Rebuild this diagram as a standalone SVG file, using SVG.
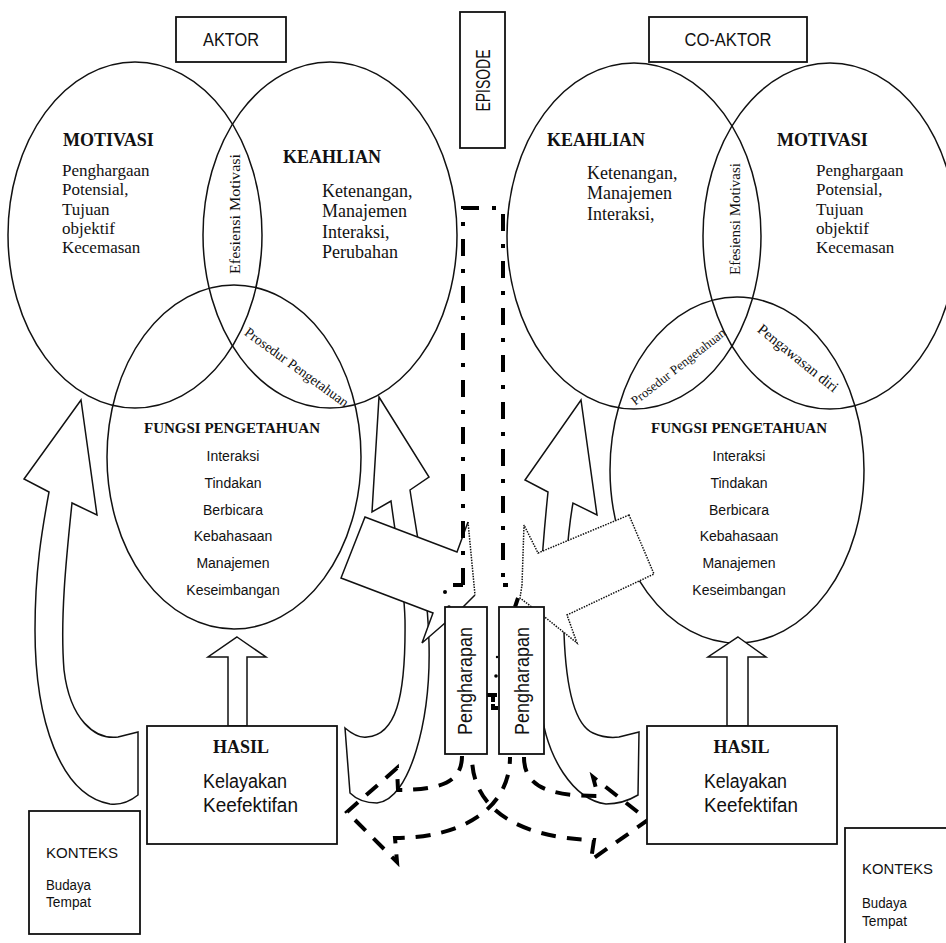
<svg xmlns="http://www.w3.org/2000/svg" width="946" height="943" viewBox="0 0 946 943">
<defs>
<style>
.sh{fill:none;stroke:#111;stroke-width:1.5}
.wf{fill:#fff;stroke:#111;stroke-width:1.5;stroke-linejoin:miter}
.nf{fill:#fff;stroke:none}
.box{fill:#fff;stroke:#111;stroke-width:1.8}
.serif{font-family:"Liberation Serif","Times New Roman",serif;fill:#111}
.sans{font-family:"Liberation Sans",Arial,sans-serif;fill:#111}
.b{font-weight:bold}
.mid{text-anchor:middle}
.dd{fill:none;stroke:#000;stroke-width:4;stroke-dasharray:17 13 4 13}
.dash{fill:none;stroke:#000;stroke-width:4;stroke-dasharray:15 11}
.dot{fill:none;stroke:#111;stroke-width:1.5;stroke-dasharray:1.5 1.2}
.mk{fill:none;stroke:#000;stroke-width:4}
</style>
</defs>
<rect x="0" y="0" width="946" height="943" fill="#fff"/>

<!-- Ellipses -->
<g id="motivasi-aktor">
<ellipse class="sh" cx="135" cy="235" rx="127" ry="173"/>
<text class="serif b" font-size="18" x="63" y="146">MOTIVASI</text>
<text class="serif" font-size="17"><tspan x="62" y="176">Penghargaan</tspan><tspan x="62" y="195">Potensial,</tspan><tspan x="62" y="215">Tujuan</tspan><tspan x="62" y="234">objektif</tspan><tspan x="62" y="253">Kecemasan</tspan></text>
</g>
<g id="keahlian-aktor">
<ellipse class="sh" cx="330" cy="235" rx="127" ry="173"/>
<text class="serif b" font-size="18" x="283" y="163">KEAHLIAN</text>
<text class="serif" font-size="18"><tspan x="322" y="197">Ketenangan,</tspan><tspan x="322" y="217">Manajemen</tspan><tspan x="322" y="238">Interaksi,</tspan><tspan x="322" y="258">Perubahan</tspan></text>
</g>
<g id="fungsi-aktor">
<ellipse class="sh" cx="234" cy="457" rx="127" ry="172"/>
<text class="serif b mid" font-size="15" x="232" y="433">FUNGSI PENGETAHUAN</text>
<text class="sans mid" font-size="14"><tspan x="233" y="461">Interaksi</tspan><tspan x="233" y="488">Tindakan</tspan><tspan x="233" y="514.5">Berbicara</tspan><tspan x="233" y="541">Kebahasaan</tspan><tspan x="233" y="568">Manajemen</tspan><tspan x="233" y="595">Keseimbangan</tspan></text>
</g>
<g id="overlap-aktor">
<text class="serif mid" font-size="15" textLength="120" lengthAdjust="spacingAndGlyphs" transform="translate(240,214) rotate(-90)">Efesiensi Motivasi</text>
<text class="serif mid" font-size="14" transform="translate(294,371) rotate(36)">Prosedur Pengetahuan</text>
</g>

<g id="keahlian-coaktor">
<ellipse class="sh" cx="634" cy="236" rx="127" ry="173"/>
<text class="serif b" font-size="18" x="547" y="146">KEAHLIAN</text>
<text class="serif" font-size="18"><tspan x="587" y="179">Ketenangan,</tspan><tspan x="587" y="199">Manajemen</tspan><tspan x="587" y="220">Interaksi,</tspan></text>
</g>
<g id="motivasi-coaktor">
<ellipse class="sh" cx="830" cy="236" rx="127" ry="173"/>
<text class="serif b" font-size="18" x="777" y="146">MOTIVASI</text>
<text class="serif" font-size="17"><tspan x="816" y="176">Penghargaan</tspan><tspan x="816" y="195">Potensial,</tspan><tspan x="816" y="215">Tujuan</tspan><tspan x="816" y="234">objektif</tspan><tspan x="816" y="253">Kecemasan</tspan></text>
</g>
<g id="fungsi-coaktor">
<ellipse class="sh" cx="737" cy="470" rx="127" ry="173"/>
<text class="serif b mid" font-size="15" x="739" y="433">FUNGSI PENGETAHUAN</text>
<text class="sans mid" font-size="14"><tspan x="739" y="461">Interaksi</tspan><tspan x="739" y="488">Tindakan</tspan><tspan x="739" y="514.5">Berbicara</tspan><tspan x="739" y="541">Kebahasaan</tspan><tspan x="739" y="568">Manajemen</tspan><tspan x="739" y="595">Keseimbangan</tspan></text>
</g>
<g id="overlap-coaktor">
<text class="serif mid" font-size="15" textLength="112" lengthAdjust="spacingAndGlyphs" transform="translate(740,219) rotate(-90)">Efesiensi Motivasi</text>
<text class="serif mid" font-size="13" transform="translate(681,370) rotate(-38)">Prosedur Pengetahuan</text>
<text class="serif mid" font-size="15" transform="translate(795,362) rotate(38.8)">Pengawasan diri</text>
</g>

<!-- Connectors -->
<g id="connectors">
<path class="wf" d="M 81,400 L 97,515 L 72,503 C 66,560 60,620 64,670 C 70,720 95,740 118,737 L 138,732 L 138,795 C 128,803 118,805 110,804 C 60,795 35,720 35,630 C 35,570 42,530 49,492 L 24,479 Z"/>
<path class="wf" d="M 379,397 L 429,477 L 410,490 C 416,530 428,590 429,643 C 431,720 410,800 377,803 C 366,803 356,799 350,793 L 345,728 C 352,734 360,738 367,737 C 395,735 406,700 405,620 C 404,580 396,540 391,501 L 372,512 Z"/>
<path class="wf" d="M 581,400 L 597,515 L 573,503 C 568,530 563,590 564,633 C 566,690 575,725 593,733 C 602,737 612,738 619,737 L 639,732 L 638,795 C 628,801 618,804 606,804 C 575,800 545,760 540,700 C 536,640 540,570 548,492 L 525,480 Z"/>
<polygon class="wf" points="237,637 266,657 247,657 247,726 228,726 228,657 208,657"/>
<polygon class="wf" points="738,637 766,657 748,657 748,726 727,726 727,657 708,657"/>
<polygon class="nf" points="365,517 457,552 468,522 475,595 460,610 422,643 433,613 341,578"/>
<path class="sh" d="M 475,595 L 460,610 L 422,643 L 433,613 L 341,578 L 365,517 L 457,552 L 468,522"/>
<path class="dot" d="M 468,522 L 475,595"/>
<polygon class="nf" points="629,515 538,553 524,525 522,585 520,598 541,614 577,643 567,615 654,574"/>
<path class="dot" d="M 629,515 L 538,553 L 524,525 L 522,585 L 520,598 L 541,614 L 577,643 L 567,615 L 654,574 Z"/>
<path class="dd" d="M 463,585 L 463,208 L 503,208 L 503,585"/>
<path class="mk" d="M 453,585 H 463 M 503,585 H 508"/>
<circle cx="445" cy="592" r="2" fill="#000"/>
<circle cx="449" cy="607" r="1.8" fill="#000"/>
<path class="mk" stroke-width="3" d="M 515,607 L 518,598"/>
<circle cx="496" cy="676" r="1.8" fill="#000"/>
<circle cx="497" cy="657" r="1.2" fill="#000"/>
<path class="mk" d="M 487,695 H 497 M 493,695 V 702 M 492,708 H 498 M 493,704 V 710"/>
<path class="dash" d="M 462,756 C 462,780 445,790 398,790 L 397,768 L 347,812 L 397,862 L 395,838 C 460,838 510,810 510,757"/>
<path class="dash" d="M 524,757 C 524,785 545,796 598,796 L 593,777 L 648,820 L 591,860 L 594,840 C 520,838 472,810 472,757"/>
</g>

<!-- Boxes -->
<g id="aktor">
<rect class="box" x="176" y="17" width="110" height="45"/>
<text class="sans mid" font-size="19" x="231" y="46" textLength="56" lengthAdjust="spacingAndGlyphs">AKTOR</text>
</g>
<g id="coaktor">
<rect class="box" x="649" y="17" width="158" height="45"/>
<text class="sans mid" font-size="19" x="728" y="46" textLength="87" lengthAdjust="spacingAndGlyphs">CO-AKTOR</text>
</g>
<g id="episode">
<rect class="box" x="460" y="12" width="45" height="136"/>
<text class="sans mid" font-size="21" textLength="62" lengthAdjust="spacingAndGlyphs" transform="translate(490,80.5) rotate(-90)">EPISODE</text>
</g>
<g id="pengharapan-aktor">
<rect class="box" x="445" y="607" width="42" height="147"/>
<text class="sans mid" font-size="21" textLength="108" lengthAdjust="spacingAndGlyphs" transform="translate(472,681) rotate(-90)">Pengharapan</text>
</g>
<g id="pengharapan-coaktor">
<rect class="box" x="499" y="607" width="45" height="147"/>
<text class="sans mid" font-size="21" textLength="108" lengthAdjust="spacingAndGlyphs" transform="translate(529,681) rotate(-90)">Pengharapan</text>
</g>
<g id="hasil-aktor">
<rect class="box" x="147" y="726" width="190" height="118"/>
<text class="serif b mid" font-size="18" x="241" y="753">HASIL</text>
<text class="sans" font-size="20" x="203" y="788" textLength="84" lengthAdjust="spacingAndGlyphs">Kelayakan</text>
<text class="sans" font-size="20" x="203" y="812" textLength="95" lengthAdjust="spacingAndGlyphs">Keefektifan</text>
</g>
<g id="hasil-coaktor">
<rect class="box" x="647" y="726" width="190" height="118"/>
<text class="serif b mid" font-size="18" x="741.5" y="753">HASIL</text>
<text class="sans" font-size="20" x="704" y="788" textLength="83" lengthAdjust="spacingAndGlyphs">Kelayakan</text>
<text class="sans" font-size="20" x="704" y="812" textLength="94" lengthAdjust="spacingAndGlyphs">Keefektifan</text>
</g>
<g id="konteks-aktor">
<rect class="box" x="29" y="811" width="111" height="123"/>
<text class="sans" font-size="15" x="46" y="858" textLength="72" lengthAdjust="spacingAndGlyphs">KONTEKS</text>
<text class="sans" font-size="14" x="46" y="890" textLength="45" lengthAdjust="spacingAndGlyphs">Budaya</text>
<text class="sans" font-size="14" x="46" y="907" textLength="45" lengthAdjust="spacingAndGlyphs">Tempat</text>
</g>
<g id="konteks-coaktor">
<rect class="box" x="845" y="828" width="111" height="123"/>
<text class="sans" font-size="15" x="862" y="874" textLength="71" lengthAdjust="spacingAndGlyphs">KONTEKS</text>
<text class="sans" font-size="14" x="862" y="908" textLength="45" lengthAdjust="spacingAndGlyphs">Budaya</text>
<text class="sans" font-size="14" x="862" y="926" textLength="45" lengthAdjust="spacingAndGlyphs">Tempat</text>
</g>
</svg>
